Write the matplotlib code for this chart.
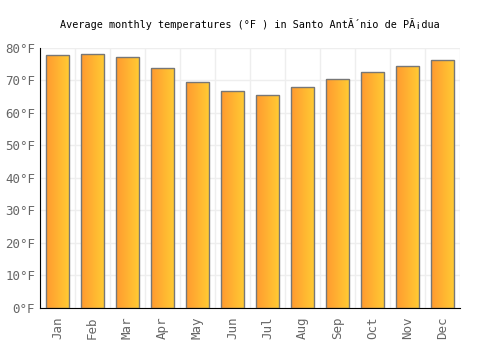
import numpy as np
import matplotlib
matplotlib.use('Agg')
import matplotlib.pyplot as plt

months = ['Jan', 'Feb', 'Mar', 'Apr', 'May', 'Jun', 'Jul', 'Aug', 'Sep', 'Oct', 'Nov', 'Dec']
temps = [77.8, 78.1, 77.2, 73.7, 69.5, 66.8, 65.5, 67.9, 70.4, 72.6, 74.5, 76.3]
yticks = [0, 10, 20, 30, 40, 50, 60, 70, 80]
title = 'Average monthly temperatures (°F ) in Santo AntÃ´nio de PÃ¡dua'

plt.rcParams['font.family'] = ['DejaVu Sans Mono']

fig = plt.figure(figsize=(5, 3.5), dpi=100)
ax = fig.add_axes([0.08, 0.12, 0.84, 0.743])

x = np.arange(len(months))
bars = ax.bar(x, temps, width=0.66, color='none', edgecolor='#777777', linewidth=1.0, zorder=3)

# horizontal gradient orange -> yellow inside every bar
grad = np.linspace(0, 1, 64).reshape(1, -1)
cmap = matplotlib.colors.LinearSegmentedColormap.from_list('og', ['#ff9a30', '#ffcc33'])
for b in bars:
    x0, w, h = b.get_x(), b.get_width(), b.get_height()
    im = ax.imshow(grad, cmap=cmap, aspect='auto', extent=(x0, x0 + w, 0, h), zorder=2)
    im.set_clip_path(b)

ax.set_xlim(-0.5, len(months) - 0.5)
ax.set_ylim(0, 80)
ax.set_yticks(yticks)
ax.set_yticklabels(['%d°F' % t for t in yticks])
ax.set_xticks(x)
ax.set_xticklabels(months, rotation=90)
ax.set_xticks(np.arange(len(months) + 1) - 0.5, minor=True)

ax.grid(True, axis='y', color='#eeeeee', linewidth=1, zorder=0)
ax.grid(True, axis='x', which='minor', color='#eeeeee', linewidth=1, zorder=0)
ax.set_axisbelow(True)

for s in ['top', 'right']:
    ax.spines[s].set_visible(False)
ax.spines['left'].set_color('black')
ax.spines['bottom'].set_color('black')
ax.tick_params(axis='both', which='both', length=0, colors='#666666', labelsize=9)
ax.tick_params(axis='x', pad=6)

fig.suptitle(title, y=0.931, va='center', fontsize=7.3, color='black')

fig.savefig('out.png', dpi=100)
